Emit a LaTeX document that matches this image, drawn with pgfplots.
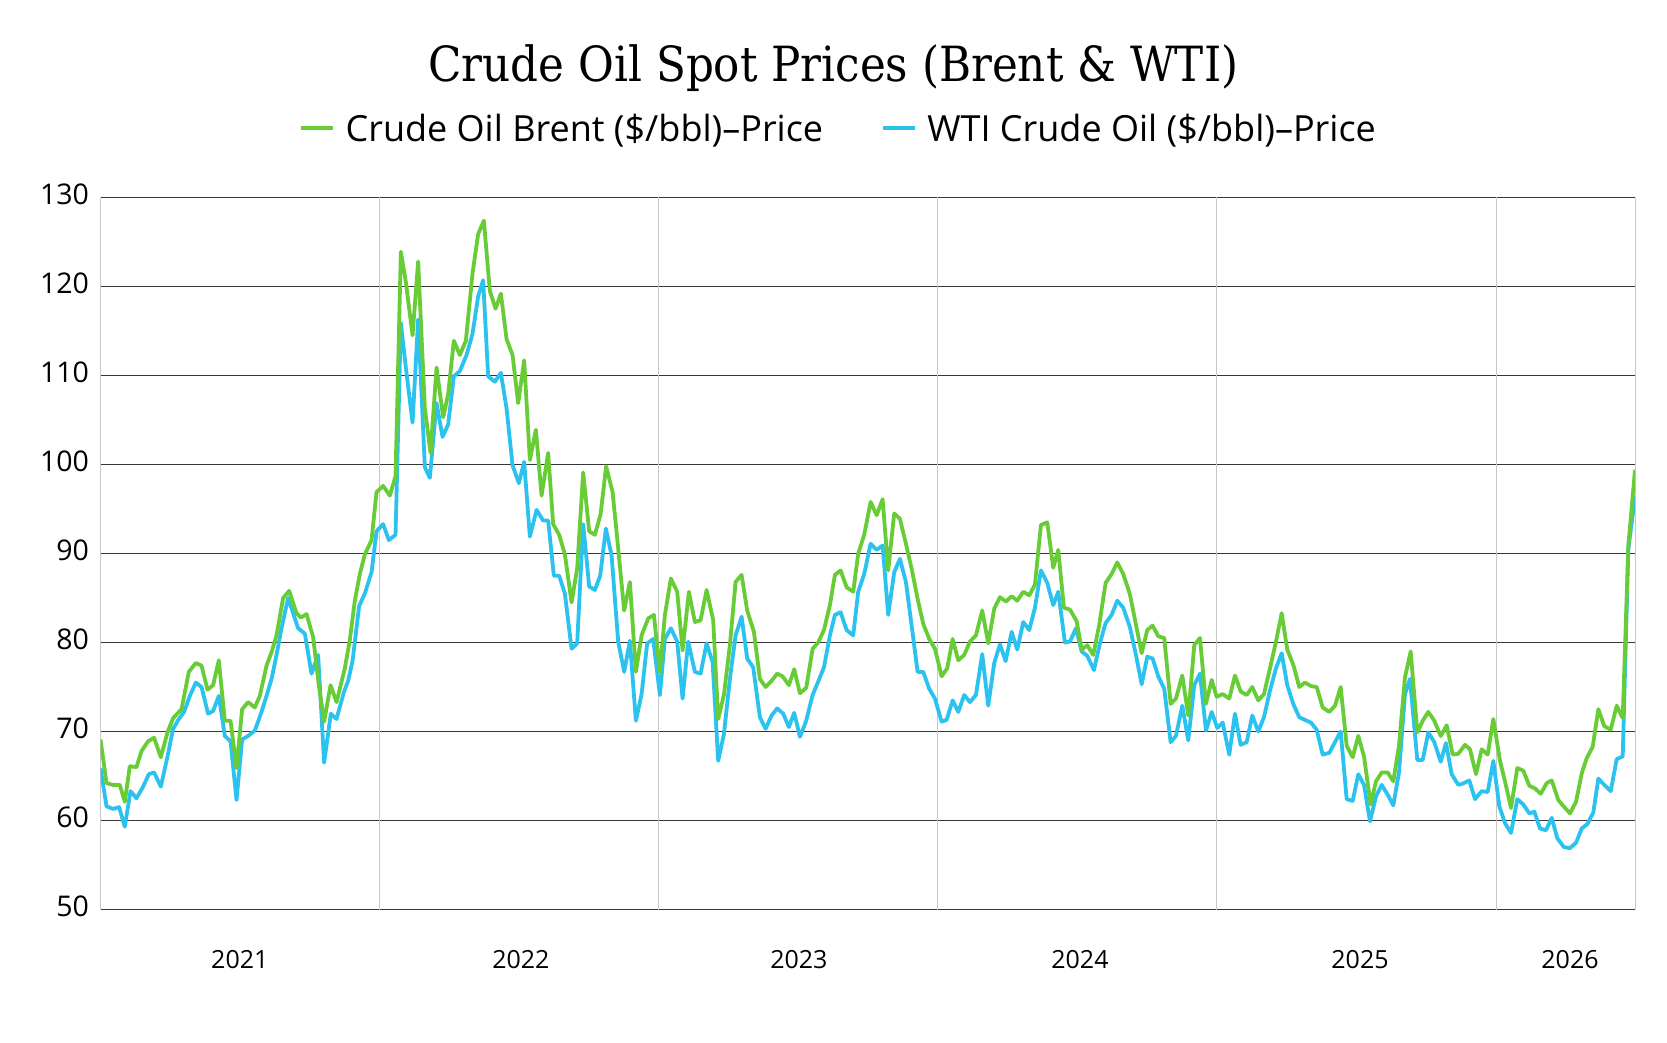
\documentclass[border=0pt]{standalone}
\usepackage{fontspec}
\setmainfont{Open Sans}
\newfontfamily\titlefont{DejaVu Serif Condensed}
\usepackage{pgfplots}
\pgfplotsset{compat=1.18}
\definecolor{brent}{RGB}{104,204,54}
\definecolor{wti}{RGB}{44,194,240}
\definecolor{hgrid}{RGB}{55,55,55}
\definecolor{vgrid}{RGB}{200,200,200}

\pgfplotstableread{
x y
100.7 69.1
106.7 64.2
113.3 64.0
120.0 64.0
125.0 62.1
130.0 66.1
136.7 66.0
141.7 67.8
148.3 68.9
154.3 69.3
161.0 67.1
167.7 69.9
173.3 71.5
181.7 72.5
189.0 76.7
196.0 77.7
201.7 77.4
207.7 74.7
213.3 75.2
219.0 78.0
225.0 71.2
230.7 71.2
236.7 65.9
242.3 72.5
248.3 73.3
255.0 72.7
260.0 74.0
266.7 77.4
271.7 78.9
276.7 80.8
283.3 85.0
289.3 85.8
296.7 83.3
301.0 82.8
306.7 83.2
313.3 80.6
319.0 75.2
324.3 71.1
330.7 75.2
336.7 73.3
345.0 77.1
350.0 80.3
355.0 84.7
360.0 87.7
365.0 89.9
371.7 91.5
376.7 96.9
383.3 97.6
390.0 96.5
395.7 98.7
401.0 123.9
406.0 120.5
412.7 114.5
418.3 122.8
425.0 106.3
430.7 101.3
436.7 110.9
443.3 105.3
448.3 107.9
454.0 113.9
460.0 112.3
466.0 113.9
472.7 121.5
478.3 125.9
484.0 127.4
490.0 119.5
495.7 117.5
501.0 119.2
506.7 114.1
512.7 112.3
518.3 106.9
524.3 111.7
530.0 100.5
536.0 103.9
541.7 96.5
548.3 101.3
553.3 93.3
559.3 92.1
565.0 89.9
571.7 84.5
577.3 88.3
583.3 99.1
589.3 92.5
595.0 92.1
600.7 94.4
606.3 99.8
612.7 96.9
618.3 90.6
624.3 83.6
630.0 86.8
636.0 76.7
641.7 80.8
648.3 82.7
654.0 83.1
660.0 76.7
665.0 83.1
671.0 87.2
677.3 85.7
682.7 79.1
689.0 85.7
695.0 82.3
700.7 82.5
706.7 85.9
713.3 82.5
718.3 71.4
724.0 74.1
730.0 79.7
735.7 86.8
741.7 87.6
747.3 83.6
754.0 81.2
760.0 75.9
765.7 75.0
771.7 75.7
777.3 76.5
782.7 76.2
789.0 75.2
794.3 77.0
800.0 74.3
806.3 74.9
812.7 79.3
818.3 80.0
824.0 81.4
830.0 84.2
835.0 87.6
840.7 88.1
846.7 86.2
853.3 85.7
858.3 90.0
864.3 92.1
870.7 95.8
876.7 94.3
882.7 96.1
888.3 88.1
894.3 94.5
900.0 93.9
906.0 91.1
911.7 88.3
917.7 84.9
923.3 82.1
929.3 80.4
935.0 79.3
941.7 76.2
947.3 77.1
952.7 80.4
958.3 78.0
964.3 78.6
970.0 80.1
976.0 80.8
982.3 83.6
988.3 79.9
994.3 83.8
1000.0 85.1
1006.0 84.6
1011.7 85.2
1017.3 84.7
1023.3 85.7
1029.3 85.3
1035.0 86.5
1041.0 93.2
1047.3 93.5
1053.3 88.4
1058.3 90.4
1064.0 83.9
1070.0 83.7
1076.7 82.4
1081.7 79.2
1087.3 79.7
1093.3 78.6
1099.3 82.0
1105.7 86.7
1111.7 87.7
1117.3 89.0
1123.3 87.7
1130.0 85.4
1136.0 82.0
1141.7 78.8
1147.3 81.4
1152.7 81.9
1158.3 80.7
1164.3 80.5
1170.7 73.1
1176.0 73.7
1182.3 76.3
1188.3 71.8
1194.3 79.7
1200.0 80.5
1206.0 73.1
1211.7 75.8
1216.7 73.9
1222.7 74.2
1229.3 73.7
1235.0 76.3
1240.7 74.5
1246.7 74.1
1252.3 75.0
1258.3 73.5
1264.0 74.2
1270.0 77.1
1276.0 80.1
1281.7 83.3
1287.3 79.2
1293.3 77.5
1299.3 75.0
1305.0 75.5
1311.0 75.1
1316.7 75.0
1322.7 72.7
1329.3 72.2
1335.0 72.9
1340.7 75.0
1346.7 68.4
1352.7 67.1
1358.3 69.5
1364.0 67.2
1370.7 61.8
1376.0 64.4
1381.7 65.4
1387.7 65.4
1393.3 64.4
1399.0 68.4
1405.0 76.1
1410.7 79.0
1417.3 69.9
1422.7 71.2
1428.3 72.2
1434.3 71.2
1440.7 69.5
1446.7 70.7
1452.7 67.4
1458.3 67.5
1465.0 68.5
1470.0 68.0
1476.0 65.2
1481.7 68.0
1487.7 67.4
1493.3 71.4
1500.0 66.7
1505.0 64.4
1511.0 61.4
1517.3 65.9
1523.3 65.6
1529.3 63.9
1535.0 63.6
1540.7 63.0
1546.7 64.2
1551.7 64.5
1558.3 62.3
1564.3 61.5
1570.0 60.8
1576.0 62.1
1581.7 65.3
1586.7 67.0
1592.7 68.3
1598.3 72.5
1604.3 70.6
1610.7 70.2
1616.7 72.9
1622.7 71.5
1628.3 90.9
1635.0 99.4
}\brenttable

\pgfplotstableread{
x y
100.7 65.9
106.7 61.6
113.3 61.3
119.3 61.5
125.0 59.3
130.7 63.3
136.7 62.5
143.3 63.8
149.0 65.2
154.3 65.4
161.0 63.8
167.7 67.2
173.3 70.3
179.0 71.4
184.3 72.2
190.0 74.0
196.0 75.5
201.7 75.0
208.3 72.0
213.3 72.3
219.0 74.0
225.0 69.5
230.7 68.9
236.7 62.3
242.3 69.1
248.3 69.5
255.0 70.1
261.7 72.2
266.7 74.0
271.7 75.9
276.7 78.6
281.7 81.6
288.3 85.0
293.3 83.3
298.3 81.6
305.0 81.0
311.7 76.5
318.3 78.6
324.3 66.5
331.0 72.0
336.7 71.4
344.0 74.4
348.3 75.7
352.7 77.9
359.3 84.1
365.0 85.5
371.7 87.9
376.7 92.5
383.3 93.3
389.0 91.5
395.7 92.1
401.0 115.9
406.0 110.9
412.7 104.7
418.3 116.3
425.0 99.7
430.0 98.5
436.7 106.9
442.7 103.1
448.3 104.5
454.0 109.9
460.0 110.5
466.7 112.3
472.7 114.7
478.3 118.9
483.3 120.7
488.3 109.9
495.0 109.3
501.0 110.3
506.7 106.3
512.7 99.9
519.0 97.9
524.3 100.3
530.0 91.9
536.7 94.9
543.3 93.7
548.3 93.7
554.0 87.5
559.3 87.5
565.0 85.5
571.7 79.3
577.3 79.9
583.3 93.3
589.3 86.3
595.0 85.9
600.3 87.5
606.0 92.8
611.7 89.8
618.3 80.1
624.3 76.7
630.0 80.2
636.0 71.2
641.7 74.2
647.3 79.9
653.3 80.4
660.0 74.1
665.0 80.4
671.0 81.6
677.3 80.1
682.7 73.7
688.3 80.1
695.0 76.7
700.7 76.5
706.7 79.9
712.7 77.8
718.3 66.7
724.0 69.7
730.0 75.9
735.7 80.8
741.7 82.9
747.3 78.2
753.3 77.2
760.0 71.6
765.7 70.3
771.7 71.8
777.3 72.6
783.3 72.0
789.0 70.5
794.3 72.1
800.0 69.4
806.0 71.1
812.7 74.1
818.3 75.6
824.0 77.2
830.0 80.8
835.0 83.1
840.7 83.4
846.7 81.4
853.3 80.8
858.3 85.7
864.3 87.7
870.7 91.1
876.7 90.4
882.7 90.9
888.3 83.1
894.3 87.9
900.0 89.4
906.0 86.8
911.7 81.9
917.7 76.7
923.3 76.7
929.3 74.8
935.0 73.7
941.7 71.1
946.7 71.3
952.7 73.5
958.3 72.2
964.3 74.1
970.0 73.3
976.0 74.1
982.3 78.7
988.3 72.9
994.3 77.7
1000.0 79.8
1005.7 77.9
1011.7 81.2
1017.3 79.2
1023.3 82.3
1029.3 81.4
1035.0 83.9
1041.0 88.1
1047.3 86.7
1053.3 84.2
1058.3 85.7
1065.0 80.0
1070.0 80.1
1076.0 81.6
1081.7 79.0
1087.3 78.5
1094.0 76.9
1100.0 79.9
1105.7 82.2
1111.7 83.1
1117.3 84.7
1123.3 83.9
1130.0 81.7
1136.0 78.6
1141.7 75.3
1147.3 78.4
1152.7 78.2
1158.3 76.2
1164.3 74.8
1170.7 68.8
1176.0 69.5
1182.3 72.9
1188.3 69.0
1194.3 75.2
1200.0 76.5
1206.0 70.1
1211.7 72.2
1217.3 70.4
1222.7 71.0
1229.3 67.4
1235.0 72.0
1240.7 68.5
1246.7 68.8
1252.3 71.8
1258.3 70.0
1264.0 71.6
1270.0 74.6
1276.0 77.1
1281.7 78.8
1287.3 75.2
1293.3 73.1
1299.3 71.6
1305.0 71.3
1311.0 71.0
1316.7 70.2
1322.7 67.4
1329.3 67.6
1335.0 68.8
1340.7 70.0
1346.7 62.4
1352.7 62.2
1358.3 65.2
1364.0 64.0
1370.0 59.9
1376.0 62.7
1381.7 64.0
1387.7 62.9
1393.3 61.7
1399.0 65.4
1405.0 74.2
1410.0 75.9
1417.3 66.8
1422.7 66.8
1428.3 69.9
1434.3 68.8
1440.7 66.6
1446.0 68.7
1451.7 65.2
1458.3 64.0
1464.0 64.2
1469.3 64.5
1475.0 62.4
1481.7 63.3
1487.7 63.2
1493.3 66.7
1499.3 61.6
1505.0 59.7
1511.0 58.6
1517.3 62.4
1523.3 61.8
1529.3 60.8
1534.3 61.0
1540.0 59.1
1546.0 58.9
1551.7 60.3
1557.3 58.0
1564.0 57.0
1570.0 56.9
1576.0 57.5
1581.7 59.1
1587.3 59.6
1593.3 60.9
1598.3 64.7
1604.3 64.0
1610.7 63.3
1616.7 66.9
1622.7 67.2
1628.3 90.5
1635.0 96.4
}\wtitable

\begin{document}
\begin{tikzpicture}[x=1pt,y=1pt]
\path[use as bounding box] (0,0) rectangle (1667,1042);
\node[anchor=base, font=\titlefont\fontsize{48.5}{54}\selectfont] at (833.5,960) {Crude Oil Spot Prices (Brent \& WTI)};
\begin{axis}[
  at={(100.5pt,132.5pt)}, anchor=south west,
  scale only axis, width=1534.5pt, height=712pt,
  xmin=100.7, xmax=1635, ymin=50, ymax=130,
  axis line style={draw=none},
  tick style={draw=none},
  major tick length=0pt,
  ytick={50,60,...,130},
  ymajorgrids=true,
  major grid style={draw=hgrid, line width=1.3pt},
  xtick={240,521,799,1080,1360,1570},
  xticklabels={2021,2022,2023,2024,2025,2026},
  extra x ticks={100.7,379.5,658.3,937.5,1216.5,1496,1635},
  extra x tick labels={},
  extra x tick style={xmajorgrids=true, major grid style={draw=vgrid, line width=1pt}},
  yticklabel style={font=\fontsize{28.5}{28.5}\selectfont, xshift=-8pt, yshift=3pt},
  xticklabel style={font=\fontsize{25}{25}\selectfont, yshift=-37pt},
  /pgf/number format/assume math mode=true,
  legend columns=2,
  legend style={at={(0.481,1.0973)}, anchor=center, draw=none, fill=none,
    font=\fontsize{36}{40}\selectfont,
    /tikz/every even column/.append style={column sep=56pt}},
  legend image code/.code={\draw[#1, line width=4pt] (0pt,0pt) -- (32pt,0pt);\path (42pt,0pt);},
]
\addlegendimage{brent}
\addlegendentry{Crude Oil Brent (\$/bbl)–Price}
\addlegendimage{wti}
\addlegendentry{WTI Crude Oil (\$/bbl)–Price}
\addplot[wti, line width=3.8pt, line join=round, forget plot] table[x=x,y=y] {\wtitable};
\addplot[brent, line width=3.8pt, line join=round, forget plot] table[x=x,y=y] {\brenttable};
\end{axis}
\end{tikzpicture}
\end{document}
